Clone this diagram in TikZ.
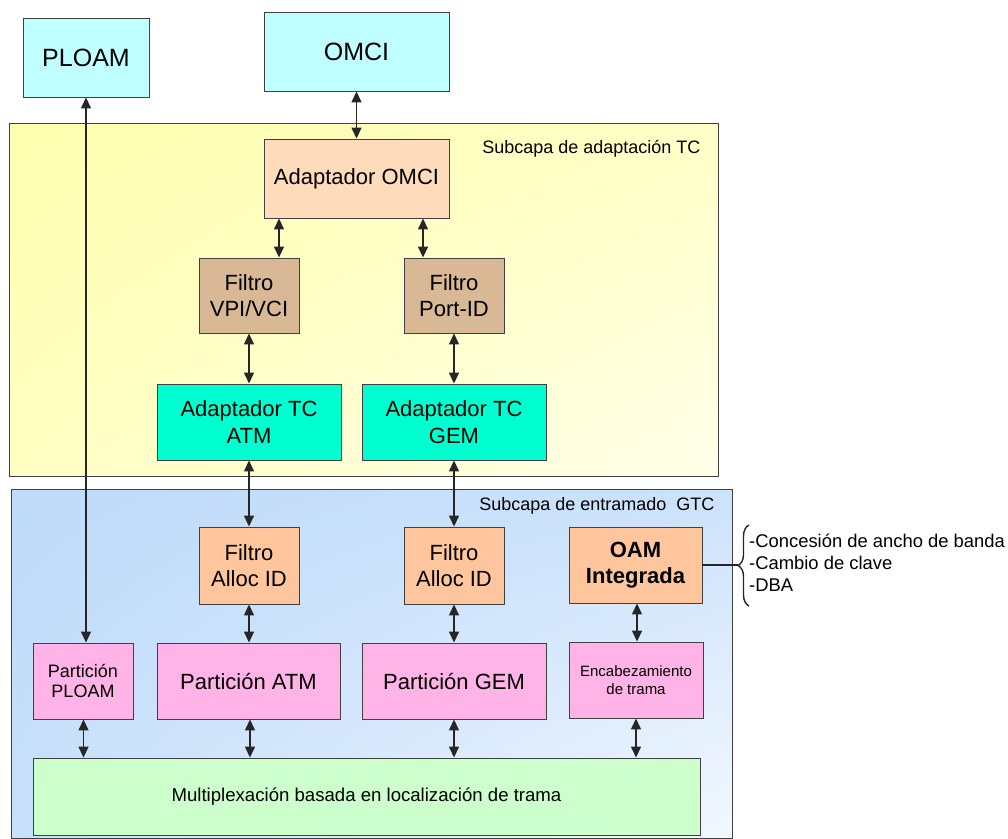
\documentclass[tikz,border=0pt]{standalone}
\usepackage{fontspec}
\setmainfont{Liberation Sans}
\usetikzlibrary{arrows.meta,decorations.pathreplacing,shadings}

\definecolor{edge}{HTML}{404040}
\definecolor{wire}{HTML}{262626}
\definecolor{cyanbox}{HTML}{C0FFFF}
\definecolor{peach}{HTML}{FDDBBB}
\definecolor{tan}{HTML}{D9B895}
\definecolor{aqua}{HTML}{00FFD0}
\definecolor{salmon}{HTML}{FFC69E}
\definecolor{pink}{HTML}{FFB3E6}
\definecolor{mint}{HTML}{CCFFCC}
% sublayer shading corners
\definecolor{yelUL}{HTML}{FFFFB0}
\definecolor{yelUR}{HTML}{FFFFC6}
\definecolor{yelLL}{HTML}{FFFFC2}
\definecolor{yelLR}{HTML}{FFFFEA}
\definecolor{bluUL}{HTML}{BEDBFA}
\definecolor{bluUR}{HTML}{CCE2FB}
\definecolor{bluLL}{HTML}{C8E0FA}
\definecolor{bluLR}{HTML}{F3F8FF}

\tikzset{
  box/.style={draw=edge, line width=0.9pt, inner sep=0pt, align=center},
  layerbox/.style={draw=edge, line width=0.9pt, inner sep=0pt},
  arr/.style={<->, draw=wire, line width=1.4pt, >={Triangle[length=11pt,width=10pt]}},
  fbig/.style={font=\fontsize{25}{29}\selectfont},
  fmid/.style={font=\fontsize{22}{26.5}\selectfont},
  fsmall/.style={font=\fontsize{18}{20.5}\selectfont},
  ftiny/.style={font=\fontsize{15}{18}\selectfont},
}

\begin{document}
\begin{tikzpicture}[x=1pt,y=-1pt]
\useasboundingbox (0,0) rectangle (1008,838);

% sublayer backgrounds
\node[layerbox, minimum width=709pt, minimum height=353pt,
  upper left=yelUL, upper right=yelUR, lower left=yelLL, lower right=yelLR]
  (tclayer) at (363.5,299.5) {};
\node[layerbox, minimum width=721pt, minimum height=349pt,
  upper left=bluUL, upper right=bluUR, lower left=bluLL, lower right=bluLR]
  (gtclayer) at (371.5,663.5) {};

\node[fsmall, anchor=east] (tclabel) at (704,149) {Subcapa de adaptación TC};
\node[fsmall, anchor=east] (gtclabel) at (718,506) {Subcapa de entramado\ \ GTC};

% upper blocks
\node[box, fbig, fill=cyanbox, minimum width=126pt, minimum height=79pt] (ploam) at (86,57.5) {PLOAM};
\node[box, fbig, fill=cyanbox, minimum width=185pt, minimum height=79pt] (omci) at (356.5,51.5) {OMCI};
\node[box, fmid, fill=peach, minimum width=185pt, minimum height=79pt] (adomci) at (356.5,178.5) {Adaptador OMCI};
\node[box, fmid, fill=tan, minimum width=100pt, minimum height=75pt] (fvpi) at (249,295.5) {Filtro\\VPI/VCI};
\node[box, fmid, fill=tan, minimum width=100pt, minimum height=75pt] (fport) at (454,295.5) {Filtro\\Port-ID};
\node[box, fmid, fill=aqua, minimum width=184pt, minimum height=76pt] (tcatm) at (249,422) {Adaptador TC\\ATM};
\node[box, fmid, fill=aqua, minimum width=184pt, minimum height=76pt] (tcgem) at (454,422) {Adaptador TC\\GEM};

% framing sublayer blocks
\node[box, fmid, fill=salmon, minimum width=100pt, minimum height=77pt] (fa1) at (249,565.5) {Filtro\\Alloc ID};
\node[box, fmid, fill=salmon, minimum width=100pt, minimum height=77pt] (fa2) at (454,565.5) {Filtro\\Alloc ID};
\node[box, fill=salmon, minimum width=133pt, minimum height=76pt, font=\fontsize{22}{26.5}\selectfont\bfseries] (oam) at (635.5,565) {OAM\\Integrada};

\node[box, fsmall, fill=pink, minimum width=100pt, minimum height=76pt] (pploam) at (83,681) {Partición\\PLOAM};
\node[box, fmid, fill=pink, minimum width=183pt, minimum height=76pt] (patm) at (248.5,681) {Partición ATM};
\node[box, fmid, fill=pink, minimum width=184pt, minimum height=76pt] (pgem) at (454,681) {Partición GEM};
\node[box, ftiny, fill=pink, minimum width=134pt, minimum height=76pt] (encab) at (636,680) {Encabezamiento\\de trama};

\node[box, font=\fontsize{18.6}{22}\selectfont, fill=mint, minimum width=667pt, minimum height=77pt] (mux) at (366.5,796.5) {Multiplexación basada en localización de trama};

% connectors
\coordinate (xl) at (279,0);
\coordinate (xr) at (423,0);
\draw[arr] (omci.south) -- (adomci.north);
\draw[arr] (adomci.south -| xl) -- (fvpi.north -| xl);
\draw[arr] (adomci.south -| xr) -- (fport.north -| xr);
\draw[arr] (fvpi.south) -- (tcatm.north);
\draw[arr] (fport.south) -- (tcgem.north);
\draw[arr] (tcatm.south) -- (fa1.north);
\draw[arr] (tcgem.south) -- (fa2.north);
\draw[arr] (fa1.south) -- (fa1.south |- patm.north);
\draw[arr] (fa2.south) -- (fa2.south |- pgem.north);
\draw[arr] ([xshift=1.5pt]oam.south) -- ([xshift=1.5pt]oam.south |- encab.north);
\draw[arr] (ploam.south) -- (ploam.south |- pploam.north);
\draw[arr] ([xshift=0.5pt]pploam.south) -- ([xshift=0.5pt]pploam.south |- mux.north);
\draw[arr] ([xshift=1.5pt]patm.south) -- ([xshift=1.5pt]patm.south |- mux.north);
\draw[arr] (pgem.south) -- (pgem.south |- mux.north);
\draw[arr] (encab.south) -- (encab.south |- mux.north);

% OAM functions
\coordinate (btip) at (738,565);
\draw[draw=wire, line width=1.4pt] (oam.east) -- (btip);
\draw[draw=wire, line width=1.4pt, decorate, decoration={brace, amplitude=11pt}] (749,606) -- (749,525);
\node[anchor=west, align=left, font=\fontsize{18.4}{22}\selectfont, inner sep=0pt] (notes) at (749,563)
  {-Concesión de ancho de banda\\-Cambio de clave\\-DBA};
\end{tikzpicture}
\end{document}
